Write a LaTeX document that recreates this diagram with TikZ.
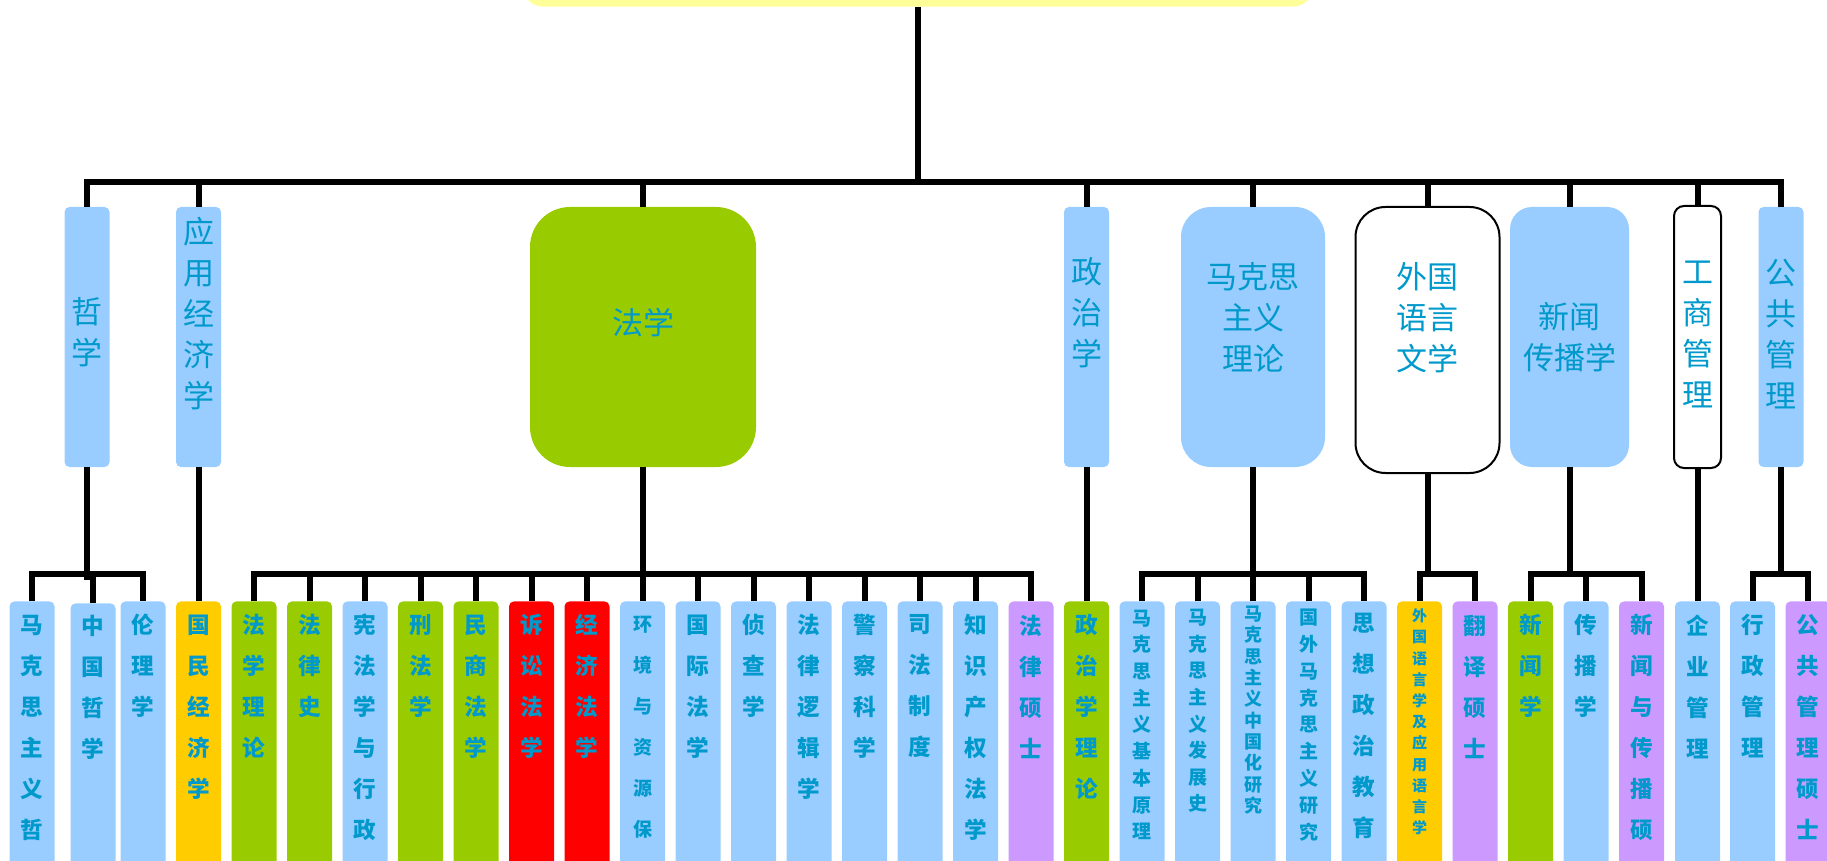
\documentclass[tikz,border=0pt]{standalone}
\usepackage{fontspec}
\newfontfamily\cjk{Noto Sans CJK SC}
\definecolor{hb}{HTML}{99CCFF}
\definecolor{gr}{HTML}{99CC00}
\definecolor{og}{HTML}{FFCC00}
\definecolor{rt}{HTML}{FF0000}
\definecolor{vi}{HTML}{CC99FF}
\definecolor{ge}{HTML}{FFFF99}
\definecolor{wort}{HTML}{0099CC}

\begin{document}
\begin{tikzpicture}[x=0.5pt,y=-0.5pt,
    conn/.style={line width=3pt},
    bar/.style={line width=3pt,line cap=rect},
    fach/.style={rectangle,rounded corners=2.5pt,minimum width=22.5pt,minimum height=130pt,inner sep=0pt},
    fachtxt/.style={align=center,inner sep=0pt,text=wort,font=\cjk\fontsize{15.5}{20.5}\selectfont},
    zweig/.style={rectangle,rounded corners=2.5pt,minimum width=22.5pt,minimum height=140pt,anchor=north,inner sep=0pt},
    zweigtxt/.style={align=center,inner sep=0pt,text=wort,font=\cjk\bfseries\fontsize{11.3}{20.5}\selectfont}]
   \useasboundingbox (0,0) rectangle (1827,861);
   \clip (0,0) rectangle (1827,861);

   %% Wurzel
   \node[fill=ge,rounded corners=10pt,minimum width=395pt,minimum height=40pt,anchor=south] (root) at (918,7) {};
   \coordinate (oben) at (0,182);
   \coordinate (mitte) at (0,574);

   %% Fachgebiete
   \node[fach,fill=hb] (zx) at (87,337) {};
   \node[fach,fill=hb] (yyjj) at (198.5,337) {};
   \node[fach,fill=gr,minimum width=113pt,rounded corners=20pt] (fx) at (643,337) {};
   \node[fach,fill=hb] (zzx) at (1086.5,337) {};
   \node[fach,fill=hb,minimum width=72pt,rounded corners=15pt] (mks) at (1253,337) {};
   \node[fach,draw,line width=1pt,fill=white,minimum width=72pt,minimum height=133pt,rounded corners=15pt] (wgy) at (1427.5,340) {};
   \node[fach,fill=hb,minimum width=59.5pt,rounded corners=11pt] (xwcb) at (1569.5,337) {};
   \node[fach,draw,line width=1pt,fill=white,minimum width=23.5pt,minimum height=131pt,rounded corners=5pt] (gsgl) at (1697.5,337) {};
   \node[fach,fill=hb] (gggl) at (1781,337) {};

   \node[fachtxt] (zxt) at (87,332.5) {哲\\学};
   \node[fachtxt] (yyjjt) at (198.5,314) {应\\用\\经\\济\\学};
   \node[fachtxt] (fxt) at (643,323) {法学};
   \node[fachtxt] (zzxt) at (1086.5,313) {政\\治\\学};
   \node[fachtxt] (mkst) at (1253,317.5) {马克思\\主义\\理论};
   \node[fachtxt] (wgyt) at (1427.5,317.5) {外国\\语言\\文学};
   \node[fachtxt] (xwcbt) at (1569.5,337.5) {新闻\\传播学};
   \node[fachtxt] (gsglt) at (1697.5,334.5) {工\\商\\管\\理};
   \node[fachtxt] (gggltt) at (1781,334.5) {公\\共\\管\\理};

   %% Zweige
   \node[zweig,fill=hb] (zx1) at (32,601) {};
   \node[zweig,fill=hb] (zx2) at (93,603) {};
   \node[zweig,fill=hb] (zx3) at (143,601) {};
   \node[zweig,fill=og] (gm) at (198.5,601) {};
   \node[zweig,fill=gr] (fx1) at (254,601) {};
   \node[zweig,fill=gr] (fx2) at (309.5,601) {};
   \node[zweig,fill=hb] (fx3) at (365,601) {};
   \node[zweig,fill=gr] (fx4) at (420.5,601) {};
   \node[zweig,fill=gr] (fx5) at (476,601) {};
   \node[zweig,fill=rt] (fx6) at (531.5,601) {};
   \node[zweig,fill=rt] (fx7) at (587,601) {};
   \node[zweig,fill=hb] (fx8) at (642.5,601) {};
   \node[zweig,fill=hb] (fx9) at (698,601) {};
   \node[zweig,fill=hb] (fx10) at (753.5,601) {};
   \node[zweig,fill=hb] (fx11) at (809,601) {};
   \node[zweig,fill=hb] (fx12) at (864.5,601) {};
   \node[zweig,fill=hb] (fx13) at (920,601) {};
   \node[zweig,fill=hb] (fx14) at (975.5,601) {};
   \node[zweig,fill=vi] (fx15) at (1031,601) {};
   \node[zweig,fill=gr] (zz) at (1086.5,601) {};
   \node[zweig,fill=hb] (mk1) at (1142,601) {};
   \node[zweig,fill=hb] (mk2) at (1197.5,601) {};
   \node[zweig,fill=hb] (mk3) at (1253,601) {};
   \node[zweig,fill=hb] (mk4) at (1308.5,601) {};
   \node[zweig,fill=hb] (mk5) at (1364,601) {};
   \node[zweig,fill=og] (wy1) at (1419.5,601) {};
   \node[zweig,fill=vi] (wy2) at (1475,601) {};
   \node[zweig,fill=gr] (xw1) at (1530.5,601) {};
   \node[zweig,fill=hb] (xw2) at (1586,601) {};
   \node[zweig,fill=vi] (xw3) at (1641.5,601) {};
   \node[zweig,fill=hb] (qy) at (1697.5,601) {};
   \node[zweig,fill=hb] (gl1) at (1752.5,601) {};
   \node[zweig,fill=vi] (gl2) at (1808,601) {};

   \node[zweigtxt] (zx1t) at (32,727.5) {马\\克\\思\\主\\义\\哲};
   \node[zweigtxt] (zx2t) at (93,687.5) {中\\国\\哲\\学};
   \node[zweigtxt] (zx3t) at (143,666) {伦\\理\\学};
   \node[zweigtxt] (gmt) at (198.5,707) {国\\民\\经\\济\\学};
   \node[zweigtxt] (fx1t) at (254,686.5) {法\\学\\理\\论};
   \node[zweigtxt] (fx2t) at (309.5,666) {法\\律\\史};
   \node[zweigtxt] (fx3t) at (365,727.5) {宪\\法\\学\\与\\行\\政};
   \node[zweigtxt] (fx4t) at (420.5,666) {刑\\法\\学};
   \node[zweigtxt] (fx5t) at (476,686.5) {民\\商\\法\\学};
   \node[zweigtxt] (fx6t) at (531.5,686.5) {诉\\讼\\法\\学};
   \node[zweigtxt] (fx7t) at (587,686.5) {经\\济\\法\\学};
   \node[zweigtxt,font=\cjk\bfseries\fontsize{9.5}{20.5}\selectfont] (fx8t) at (642.5,727.5) {环\\境\\与\\资\\源\\保};
   \node[zweigtxt] (fx9t) at (698,686.5) {国\\际\\法\\学};
   \node[zweigtxt] (fx10t) at (753.5,666) {侦\\查\\学};
   \node[zweigtxt] (fx11t) at (809,707) {法\\律\\逻\\辑\\学};
   \node[zweigtxt] (fx12t) at (864.5,686.5) {警\\察\\科\\学};
   \node[zweigtxt] (fx13t) at (920,686.5) {司\\法\\制\\度};
   \node[zweigtxt] (fx14t) at (975.5,727.5) {知\\识\\产\\权\\法\\学};
   \node[zweigtxt] (fx15t) at (1031,686.5) {法\\律\\硕\\士};
   \node[zweigtxt] (zzt) at (1086.5,707) {政\\治\\学\\理\\论};
   \node[zweigtxt,font=\cjk\bfseries\fontsize{9.5}{13.35}\selectfont] (mk1t) at (1142,724.8) {马\\克\\思\\主\\义\\基\\本\\原\\理};
   \node[zweigtxt,font=\cjk\bfseries\fontsize{9.5}{13.3}\selectfont] (mk2t) at (1197.5,711) {马\\克\\思\\主\\义\\发\\展\\史};
   \node[zweigtxt,font=\cjk\bfseries\fontsize{9}{10.65}\selectfont] (mk3t) at (1253,710) {马\\克\\思\\主\\义\\中\\国\\化\\研\\究};
   \node[zweigtxt,font=\cjk\bfseries\fontsize{9.5}{13.4}\selectfont] (mk4t) at (1308.5,725) {国\\外\\马\\克\\思\\主\\义\\研\\究};
   \node[zweigtxt] (mk5t) at (1364,725.5) {思\\想\\政\\治\\教\\育};
   \node[zweigtxt,font=\cjk\bfseries\fontsize{7.5}{10.6}\selectfont] (wy1t) at (1419.5,722) {外\\国\\语\\言\\学\\及\\应\\用\\语\\言\\学};
   \node[zweigtxt] (wy2t) at (1475,686.5) {翻\\译\\硕\\士};
   \node[zweigtxt] (xw1t) at (1530.5,666) {新\\闻\\学};
   \node[zweigtxt] (xw2t) at (1586,666) {传\\播\\学};
   \node[zweigtxt] (xw3t) at (1641.5,727.5) {新\\闻\\与\\传\\播\\硕};
   \node[zweigtxt] (qyt) at (1697.5,686.5) {企\\业\\管\\理};
   \node[zweigtxt] (gl1t) at (1752.5,686.5) {行\\政\\管\\理};
   \node[zweigtxt] (gl2t) at (1808,727.5) {公\\共\\管\\理\\硕\\士};

   %% Verbindungen oben
   \draw[conn] (root.south) -- (root.south |- oben);
   \draw[bar] (zx.north |- oben) -- (gggl.north |- oben);
   \draw[conn] (zx.north |- oben) -- (zx.north);
   \draw[conn] (yyjj.north |- oben) -- (yyjj.north);
   \draw[conn] (fx.north |- oben) -- (fx.north);
   \draw[conn] (zzx.north |- oben) -- (zzx.north);
   \draw[conn] (mks.north |- oben) -- (mks.north);
   \draw[conn] (wgy.north |- oben) -- (wgy.north);
   \draw[conn] (xwcb.north |- oben) -- (xwcb.north);
   \draw[conn] (gsgl.north |- oben) -- (gsgl.north);
   \draw[conn] (gggl.north |- oben) -- (gggl.north);

   %% Verbindungen unten
   \draw[conn] (zx.south) -- ([yshift=-3pt]zx.south |- mitte);
   \draw[bar] (zx1.north |- mitte) -- (zx3.north |- mitte);
   \draw[conn] (zx1.north) -- (zx1.north |- mitte) (zx2.north) -- (zx2.north |- mitte)
      (zx3.north) -- (zx3.north |- mitte);

   \draw[conn] (yyjj.south) -- (gm.north);

   \draw[conn] (fx.south) -- (fx.south |- mitte);
   \draw[bar] (fx1.north |- mitte) -- (fx15.north |- mitte);
   \draw[conn] (fx1.north) -- (fx1.north |- mitte) (fx2.north) -- (fx2.north |- mitte)
      (fx3.north) -- (fx3.north |- mitte) (fx4.north) -- (fx4.north |- mitte)
      (fx5.north) -- (fx5.north |- mitte) (fx6.north) -- (fx6.north |- mitte)
      (fx7.north) -- (fx7.north |- mitte) (fx8.north) -- (fx8.north |- mitte)
      (fx9.north) -- (fx9.north |- mitte) (fx10.north) -- (fx10.north |- mitte)
      (fx11.north) -- (fx11.north |- mitte) (fx12.north) -- (fx12.north |- mitte)
      (fx13.north) -- (fx13.north |- mitte) (fx14.north) -- (fx14.north |- mitte)
      (fx15.north) -- (fx15.north |- mitte);

   \draw[conn] (zzx.south) -- (zz.north);

   \draw[conn] (mks.south) -- (mks.south |- mitte);
   \draw[bar] (mk1.north |- mitte) -- (mk5.north |- mitte);
   \draw[conn] (mk1.north) -- (mk1.north |- mitte) (mk2.north) -- (mk2.north |- mitte)
      (mk3.north) -- (mk3.north |- mitte) (mk4.north) -- (mk4.north |- mitte)
      (mk5.north) -- (mk5.north |- mitte);

   \draw[conn] (wgy.south) -- (wgy.south |- mitte);
   \draw[bar] (wy1.north |- mitte) -- (wy2.north |- mitte);
   \draw[conn] (wy1.north) -- (wy1.north |- mitte) (wy2.north) -- (wy2.north |- mitte);

   \draw[conn] (xwcb.south) -- (xwcb.south |- mitte);
   \draw[bar] (xw1.north |- mitte) -- (xw3.north |- mitte);
   \draw[conn] (xw1.north) -- (xw1.north |- mitte) (xw2.north) -- (xw2.north |- mitte)
      (xw3.north) -- (xw3.north |- mitte);

   \draw[conn] (gsgl.south) -- (qy.north);

   \draw[conn] (gggl.south) -- (gggl.south |- mitte);
   \draw[bar] (gl1.north |- mitte) -- (gl2.north |- mitte);
   \draw[conn] (gl1.north) -- (gl1.north |- mitte) (gl2.north) -- (gl2.north |- mitte);
  \end{tikzpicture}
\end{document}
